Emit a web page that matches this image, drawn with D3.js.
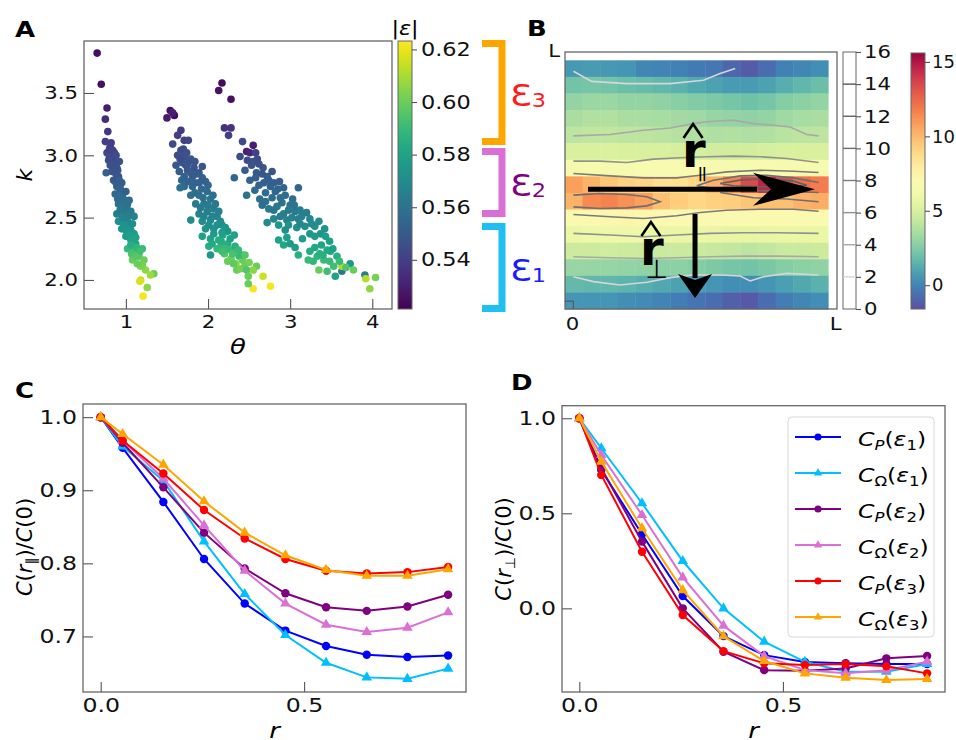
<!DOCTYPE html>
<html>
<head>
<meta charset="utf-8">
<script src="https://cdn.jsdelivr.net/npm/d3@7"></script>
<style>
  body { margin: 0; background: #fff; }
</style>
</head>
<body>
<script>
// glyphs in the reference are a bit wider than DejaVu, stretch horizontal text
var S = 1.18;
var FONT = "DejaVu Sans, sans-serif";

// ---------------- panel A : scatter of k vs theta, coloured by |eps|
// [theta, k, |eps|]
var scatterPoints = [
  [0.65,3.82,0.525],[0.70,3.57,0.526],[0.77,3.38,0.530],[0.75,3.29,0.534],[0.78,3.19,0.538],
  [0.75,3.11,0.540],[0.81,3.07,0.541],[0.77,3.02,0.543],[0.85,3.00,0.542],[0.79,2.96,0.545],
  [0.87,2.94,0.544],[0.89,2.90,0.546],[0.76,2.86,0.552],[0.83,2.87,0.547],[0.80,3.05,0.540],
  [0.83,2.98,0.543],[0.86,3.02,0.541],[0.92,2.95,0.546],[0.81,2.92,0.547],[0.88,2.85,0.548],
  [0.85,2.80,0.549],[0.91,2.83,0.548],[0.89,2.75,0.552],[0.95,2.78,0.550],[0.87,2.69,0.555],
  [0.94,2.67,0.556],[1.00,2.71,0.553],[0.91,2.61,0.560],[0.98,2.60,0.559],[1.04,2.64,0.556],
  [0.93,2.72,0.553],[0.97,2.70,0.551],[0.90,2.65,0.557],[1.01,2.58,0.560],[0.96,2.56,0.562],
  [0.89,2.53,0.565],[0.98,2.53,0.562],[1.06,2.55,0.563],[0.91,2.47,0.572],[1.02,2.47,0.569],
  [1.10,2.51,0.566],[0.95,2.41,0.575],[1.06,2.40,0.576],[1.00,2.35,0.578],[1.10,2.37,0.577],
  [1.06,2.32,0.580],[1.12,2.29,0.582],[1.04,2.44,0.572],[0.97,2.45,0.574],[1.02,2.25,0.590],
  [1.10,2.24,0.592],[1.20,2.25,0.590],[1.16,2.19,0.598],[1.08,2.16,0.600],[1.22,2.16,0.600],
  [1.18,2.11,0.604],[1.24,2.08,0.606],[1.14,2.22,0.594],[1.34,2.05,0.600],[1.18,2.00,0.614],
  [1.26,1.94,0.606],[1.21,1.87,0.622],[1.30,2.04,0.608],[1.17,1.99,0.617],
  [0.82,3.10,0.540],[0.84,3.04,0.542],[0.88,3.00,0.544],[0.80,2.99,0.544],[0.84,2.93,0.546],
  [0.90,2.88,0.548],[0.86,2.89,0.547],[0.92,2.80,0.551],[0.88,2.78,0.551],[0.93,2.74,0.553],
  [0.96,2.66,0.556],[0.92,2.68,0.556],[0.99,2.64,0.558],[0.95,2.60,0.560],[1.02,2.61,0.559],
  [0.93,2.56,0.562],[1.00,2.50,0.566],[1.04,2.52,0.565],[0.96,2.50,0.567],[1.03,2.43,0.572],
  [1.08,2.45,0.571],[1.00,2.40,0.575],[1.04,2.36,0.578],[1.08,2.33,0.580],[1.12,2.34,0.580],
  [1.06,2.28,0.585],[1.13,2.26,0.588],[1.17,2.23,0.592],[1.07,2.21,0.594],[1.12,2.19,0.596],
  [1.20,2.12,0.602],[1.14,2.13,0.600],
  [1.54,3.36,0.525],[1.59,3.32,0.524],[1.50,3.30,0.528],[1.57,3.34,0.530],[1.67,3.20,0.538],
  [1.63,3.16,0.540],[1.71,3.12,0.541],[1.76,3.12,0.542],[1.57,3.09,0.544],[1.67,3.04,0.545],
  [1.63,3.00,0.545],[1.71,2.99,0.546],[1.61,2.92,0.549],[1.69,2.94,0.547],[1.77,2.95,0.546],
  [1.65,2.87,0.551],[1.75,2.88,0.549],[1.83,2.90,0.547],[1.71,2.83,0.552],[1.81,2.83,0.551],
  [1.89,2.86,0.549],[1.93,2.91,0.548],[1.66,2.97,0.544],[1.73,2.92,0.548],[1.79,2.86,0.550],
  [1.68,2.80,0.554],[1.71,2.75,0.556],[1.81,2.75,0.555],[1.89,2.78,0.553],[1.97,2.79,0.552],
  [1.79,2.68,0.560],[1.89,2.68,0.559],[1.99,2.71,0.557],[1.85,2.61,0.563],[1.95,2.61,0.562],
  [2.03,2.65,0.560],[1.66,2.74,0.558],[1.79,2.48,0.570],[1.89,2.53,0.566],[1.99,2.55,0.565],
  [2.07,2.57,0.564],[1.93,2.47,0.570],[2.03,2.48,0.569],[2.11,2.51,0.567],[1.97,2.41,0.574],
  [2.07,2.41,0.574],[2.17,2.44,0.572],[2.24,2.39,0.575],[1.93,2.35,0.580],[2.03,2.33,0.580],
  [2.13,2.32,0.584],[2.01,2.27,0.585],[2.11,2.25,0.590],[2.24,2.29,0.585],[2.32,2.36,0.580],
  [2.28,2.24,0.590],[2.03,2.20,0.575],[2.20,2.21,0.595],[2.28,2.17,0.600],[2.38,2.19,0.590],
  [2.24,2.15,0.600],[2.34,2.13,0.605],[2.42,2.16,0.600],[2.35,2.08,0.600],[2.40,2.09,0.602],
  [2.41,2.20,0.590],[2.45,2.13,0.600],[2.31,2.13,0.598],[2.47,2.08,0.595],[2.49,2.03,0.600],
  [2.59,2.11,0.600],[2.67,2.03,0.615],[2.76,1.95,0.622],[2.55,1.93,0.622],[2.49,1.97,0.600],
  [2.16,2.28,0.588],[2.18,2.36,0.582],
  [1.70,3.05,0.545],[1.74,3.02,0.546],[1.79,2.97,0.548],[1.84,2.95,0.548],[1.75,2.93,0.548],
  [1.86,2.85,0.550],[1.93,2.82,0.551],[1.76,2.79,0.553],[1.84,2.78,0.554],[1.92,2.73,0.556],
  [1.84,2.70,0.558],[2.00,2.76,0.555],[1.94,2.66,0.559],[2.06,2.68,0.559],[1.91,2.58,0.563],
  [2.00,2.60,0.563],[2.09,2.61,0.562],[2.13,2.55,0.566],[1.95,2.51,0.567],[2.05,2.51,0.567],
  [2.15,2.47,0.570],[2.01,2.44,0.571],[2.11,2.44,0.572],[2.21,2.42,0.574],[2.07,2.37,0.577],
  [2.17,2.38,0.578],[2.27,2.33,0.580],[2.05,2.29,0.583],[2.16,2.31,0.584],[2.22,2.25,0.590],
  [2.33,2.27,0.586],[2.17,2.23,0.592],[2.30,2.21,0.594],[2.37,2.24,0.590],[2.45,2.20,0.596],
  [2.50,2.14,0.602],[2.55,2.08,0.605],
  [2.17,3.58,0.524],[2.13,3.52,0.526],[2.28,3.45,0.525],[2.20,3.22,0.535],[2.28,3.22,0.536],
  [2.25,3.16,0.540],[2.42,3.11,0.545],[2.55,3.08,0.530],[2.47,3.03,0.530],[2.51,3.02,0.532],
  [2.39,2.99,0.545],[2.58,3.02,0.540],[2.32,2.82,0.555],[2.45,2.88,0.550],[2.51,2.80,0.553],
  [2.59,2.86,0.549],[2.67,2.90,0.547],[2.72,2.83,0.550],[2.78,2.87,0.548],[2.62,2.93,0.546],
  [2.55,2.95,0.548],[2.47,2.68,0.560],[2.57,2.72,0.556],[2.63,2.65,0.558],[2.70,2.63,0.560],
  [2.76,2.75,0.553],[2.82,2.71,0.555],[2.92,2.74,0.554],[3.10,2.74,0.555],[2.68,2.78,0.552],
  [2.87,2.79,0.551],[2.74,2.57,0.563],[2.84,2.59,0.562],[2.92,2.53,0.565],[3.00,2.60,0.560],
  [3.06,2.55,0.563],[2.80,2.49,0.568],[2.96,2.48,0.567],[3.10,2.49,0.566],[2.72,2.46,0.570],
  [3.03,2.65,0.558],[2.88,2.66,0.558],[2.86,2.44,0.575],[2.98,2.44,0.573],[3.14,2.51,0.566],
  [3.24,2.49,0.568],[3.18,2.43,0.570],[3.30,2.43,0.572],[3.37,2.37,0.575],[3.24,2.37,0.574],
  [3.43,2.35,0.578],[3.08,2.42,0.572],[2.86,2.32,0.580],[2.92,2.28,0.582],[3.00,2.29,0.576],
  [3.06,2.26,0.578],[3.24,2.23,0.584],[3.33,2.19,0.588],[3.41,2.16,0.590],[3.28,2.15,0.588],
  [3.49,2.23,0.582],[3.57,2.19,0.585],[3.22,2.16,0.590],[3.36,2.21,0.586],[3.35,2.08,0.600],
  [3.45,2.07,0.592],[3.55,2.03,0.580],[3.63,2.07,0.562],[3.73,2.13,0.575],[3.77,2.08,0.600],
  [3.63,2.11,0.610],[3.53,2.11,0.592],[3.91,2.04,0.565],[3.92,2.01,0.612],[4.04,2.02,0.602],
  [3.97,1.93,0.606],
  [2.48,2.96,0.545],[2.53,2.92,0.547],[2.60,2.97,0.545],[2.66,2.85,0.549],[2.58,2.82,0.551],
  [2.74,2.80,0.551],[2.80,2.78,0.552],[2.62,2.76,0.553],[2.70,2.70,0.556],[2.85,2.73,0.554],
  [2.94,2.68,0.557],[2.78,2.66,0.557],[2.66,2.60,0.558],[2.90,2.62,0.560],[2.98,2.56,0.563],
  [2.80,2.56,0.561],[3.05,2.60,0.561],[3.12,2.56,0.564],[2.88,2.51,0.564],[3.02,2.50,0.566],
  [3.20,2.54,0.565],[3.26,2.45,0.570],[3.12,2.45,0.569],[2.94,2.40,0.571],[3.35,2.47,0.571],
  [3.42,2.41,0.574],[3.30,2.35,0.576],[3.48,2.31,0.579],[3.15,2.33,0.577],[3.38,2.28,0.581],
  [3.30,2.26,0.582],[3.45,2.24,0.583],[3.52,2.25,0.580],[3.40,2.20,0.586],[3.60,2.15,0.590],
  [3.48,2.15,0.590],[3.68,2.10,0.595],[3.10,2.20,0.585],[2.96,2.34,0.578]
];
var thetaTicks = [1, 2, 3, 4];
var kTicks = [2.0, 2.5, 3.0, 3.5];
var epsTicks = [0.54, 0.56, 0.58, 0.60, 0.62];
// |eps| ranges marked by the brackets, order eps3, eps2, eps1
var bandNames = ["3", "2", "1"];
var bandHi = [0.6236, 0.5825, 0.5540];
var bandLo = [0.5837, 0.5563, 0.5202];

// ---------------- panel B : heat map (rows top to bottom), contour lines
var heatValues = [
  [0.6,0.7,0.6,0.5,0.1,0.0,-0.1,-0.3,-0.4,-0.9,-1.2,-0.7,-0.1,0.1,0.3],
  [2.1,2.2,2.1,1.9,1.8,1.6,1.4,1.1,0.9,0.7,0.7,0.9,1.3,1.6,1.9],
  [3.0,3.2,3.2,3.0,3.0,2.9,2.7,2.5,2.4,2.2,2.0,2.2,2.6,2.8,3.0],
  [3.6,3.8,3.8,3.6,3.6,3.5,3.4,3.3,3.1,3.0,2.9,3.0,3.3,3.5,3.6],
  [4.1,4.2,4.2,4.1,4.1,4.0,3.9,3.8,3.7,3.8,3.7,3.8,4.0,4.1,4.1],
  [5.0,5.0,5.1,5.0,5.0,5.0,4.9,4.9,4.8,4.8,4.8,4.9,5.0,5.0,5.0],
  [6.3,6.5,6.5,6.5,6.6,6.6,6.6,6.6,6.5,6.5,6.6,6.6,6.5,6.4,6.4],
  [10.8,10.2,9.6,9.2,9.0,8.6,8.6,9.0,10.2,11.6,13.4,14.6,13.2,12.2,11.8],
  [10.2,11.4,11.6,11.2,10.8,9.8,9.3,9.0,9.2,9.3,9.6,9.8,9.8,10.2,10.4],
  [6.8,7.0,7.2,7.4,7.2,7.0,7.0,7.0,7.0,6.9,6.9,7.0,7.0,6.9,6.8],
  [5.8,5.9,6.0,6.0,5.9,5.8,5.8,5.8,5.7,5.6,5.6,5.7,5.8,5.8,5.8],
  [4.6,4.6,4.7,4.6,4.5,4.5,4.5,4.5,4.4,4.3,4.1,4.3,4.5,4.5,4.6],
  [3.1,3.1,3.1,3.0,2.9,2.8,2.8,2.6,2.4,2.2,2.1,2.3,2.6,2.8,2.9],
  [1.7,1.6,1.6,1.5,1.3,1.1,0.9,0.7,0.5,0.3,0.3,0.5,0.8,1.1,1.4],
  [0.5,0.5,0.5,0.3,0.2,0.0,-0.2,-0.5,-0.7,-1.1,-1.3,-0.7,-0.2,0.1,0.3]
];
var heatTicks = [0, 5, 10, 15];
var levelTicks = [0, 2, 4, 6, 8, 10, 12, 14, 16];
var levelLines = [2, 4, 6, 8, 10, 12, 14];
// contour lines in cell units (x from left, y from bottom)
var contourLevels = [2, 4, 6, 8, 10, 12, 10, 10, 8, 6, 4, 2];
var contourLines = [
  [[0.48,14.34],[1.52,13.73],[3.52,13.59],[5.99,13.59],[7.89,13.80],[8.84,14.20],[9.70,14.50]],
  [[0.48,10.44],[2.57,10.52],[4.47,10.78],[5.99,10.92],[7.32,11.18],[8.08,11.29],[9.60,11.39],[10.74,11.18],[11.88,11.08],[12.83,10.98],[13.78,10.52],[14.45,10.44]],
  [[0.48,8.92],[2.0,8.92],[3.52,8.84],[5.04,9.04],[6.56,9.12],[8.08,9.18],[9.60,9.22],[11.12,9.18],[12.64,9.08],[14.45,8.84]],
  [[0.48,8.17],[2.57,8.03],[4.47,7.91],[6.37,7.91],[7.70,8.07],[9.22,8.27],[11.12,8.37],[13.02,8.31],[14.45,8.23]],
  [[14.45,7.63],[13.02,7.91],[11.50,8.07],[9.98,8.03],[8.46,7.77],[7.51,7.43],[8.65,7.23],[10.36,7.17],[12.07,7.11],[13.40,7.07],[14.45,7.03]],
  [[8.84,7.57],[9.98,7.77],[11.50,7.87],[13.02,7.71],[13.78,7.47],[12.64,7.37],[11.12,7.37],[9.60,7.43],[8.84,7.57]],
  [[0.48,6.87],[2.0,6.97],[3.52,6.91],[4.66,6.77],[5.42,6.47],[4.66,6.22],[3.52,6.10],[2.0,6.06],[0.48,6.16]],
  [[8.84,7.03],[10.74,6.71],[12.64,6.63],[14.45,6.47]],
  [[0.48,5.70],[2.57,5.56],[4.47,5.46],[6.37,5.62],[7.70,5.82],[9.22,5.96],[11.12,6.02],[13.02,6.02],[14.45,5.90]],
  [[0.48,4.56],[2.57,4.46],[4.47,4.36],[6.37,4.46],[8.27,4.56],[10.17,4.60],[12.07,4.60],[14.45,4.56]],
  [[0.48,3.15],[2.57,3.09],[4.47,3.05],[6.37,3.09],[8.27,3.15],[10.17,3.19],[12.07,3.19],[14.45,3.15]],
  [[0.48,1.95],[1.62,1.65],[3.14,1.45],[4.66,1.61],[5.99,1.89],[7.32,2.05],[8.84,2.05],[9.98,1.99],[10.55,1.69],[11.31,1.95],[12.64,2.15],[14.45,2.05]]
];
// arrows [start, tip] and where their labels sit, cell units
var arrowPar = [[1.31, 7.22], [14.25, 7.22]];
var arrowPerp = [[7.41, 5.73], [7.41, 0.66]];
var labelPar = [6.67, 8.56];
var labelPerp = [4.27, 2.65];

// ---------------- panels C, D : correlation functions
var rValues = [0, 0.054, 0.154, 0.254, 0.354, 0.454, 0.554, 0.654, 0.754, 0.854];
var seriesKind = ["P", "Ω", "P", "Ω", "P", "Ω"];
var seriesEps = ["1", "1", "2", "2", "3", "3"];

var parCPe1 = [1.0, 0.958, 0.884, 0.806, 0.745, 0.708, 0.687, 0.675, 0.672, 0.674];
var parCOe1 = [1.0, 0.960, 0.913, 0.830, 0.758, 0.702, 0.664, 0.644, 0.642, 0.656];
var parCPe2 = [1.0, 0.965, 0.904, 0.842, 0.793, 0.759, 0.740, 0.735, 0.741, 0.757];
var parCOe2 = [1.0, 0.968, 0.916, 0.852, 0.790, 0.745, 0.716, 0.706, 0.712, 0.733];
var parCPe3 = [1.0, 0.968, 0.923, 0.873, 0.834, 0.806, 0.790, 0.786, 0.788, 0.795];
var parCOe3 = [1.0, 0.977, 0.935, 0.885, 0.842, 0.811, 0.791, 0.783, 0.783, 0.792];

var perpCPe1 = [1.0, 0.728, 0.390, 0.065, -0.146, -0.246, -0.282, -0.289, -0.293, -0.293];
var perpCOe1 = [1.0, 0.842, 0.553, 0.249, 0.0, -0.175, -0.281, -0.333, -0.333, -0.293];
var perpCPe2 = [1.0, 0.737, 0.351, 0.0, -0.228, -0.325, -0.328, -0.316, -0.263, -0.251];
var perpCOe2 = [1.0, 0.807, 0.491, 0.163, -0.091, -0.251, -0.325, -0.342, -0.325, -0.281];
var perpCPe3 = [1.0, 0.702, 0.298, -0.035, -0.225, -0.289, -0.298, -0.293, -0.304, -0.342];
var perpCOe3 = [1.0, 0.772, 0.421, 0.096, -0.146, -0.277, -0.342, -0.365, -0.377, -0.372];

var parTicks = [0.7, 0.8, 0.9, 1.0];
var perpTicks = [0.0, 0.5, 1.0];
var rTicks = [0.0, 0.5];

// styles
var seriesColors = ["#0000ff", "#00bfff", "#800080", "#da70d6", "#ff0000", "#ffa500"];
var bandColors = ["#ffa500", "#da70d6", "#1fbff2"];
var bandTextColors = ["#ff1a1a", "#800080", "#1a1aff"];

var svg = d3.select("body").append("svg")
  .attr("width", 956).attr("height", 740)
  .attr("font-family", FONT);
var defs = svg.append("defs");

function styleAxis(g, size, noStretch) {
  g.attr("font-family", FONT).attr("font-size", size);
  g.select(".domain").remove();
  g.selectAll(".tick line").attr("stroke", "#555").attr("stroke-width", 1.1);
  g.selectAll(".tick text").attr("fill", "#111").classed("s", !noStretch);
}

function frame(x0, y0, x1, y1) {
  svg.append("rect")
    .attr("x", x0).attr("y", y0).attr("width", x1 - x0).attr("height", y1 - y0)
    .attr("fill", "none").attr("stroke", "#666").attr("stroke-width", 1.3);
}

function gradient(id, interp) {
  var lg = defs.append("linearGradient").attr("id", id)
    .attr("x1", 0).attr("y1", 1).attr("x2", 0).attr("y2", 0);
  d3.range(0, 1.0001, 0.05).forEach(function(t) {
    lg.append("stop").attr("offset", t).attr("stop-color", interp(t));
  });
}

function panelLetter(x, y, s) {
  svg.append("text").attr("class", "s").attr("x", x).attr("y", y)
    .attr("font-size", 22).attr("font-weight", "bold").text(s);
}

// ================= A
var xA = d3.scaleLinear().domain([0.49, 4.24]).range([84, 392]);
var yA = d3.scaleLinear().domain([1.767, 3.917]).range([309, 41]);
var epsDomain = [0.5213, 0.6232];
var colA = d3.scaleSequential(d3.interpolateViridis).domain(epsDomain);
var yCb = d3.scaleLinear().domain(epsDomain).range([309, 41]);

svg.append("g").selectAll("circle")
  .data(scatterPoints)
  .enter().append("circle")
  .attr("cx", function(d) { return xA(d[0]); })
  .attr("cy", function(d) { return yA(d[1]); })
  .attr("r", 3.8)
  .attr("fill", function(d) { return colA(d[2]); });

svg.append("g").attr("transform", "translate(0,309)")
  .call(d3.axisBottom(xA).tickValues(thetaTicks).tickFormat(d3.format("d"))
    .tickSizeInner(-10).tickSizeOuter(0).tickPadding(6))
  .call(styleAxis, 18);
svg.append("g").attr("transform", "translate(84,0)")
  .call(d3.axisLeft(yA).tickValues(kTicks).tickFormat(d3.format(".1f"))
    .tickSizeInner(-10).tickSizeOuter(0).tickPadding(6))
  .call(styleAxis, 18);
frame(84, 41, 392, 309);

svg.append("text").attr("class", "s").attr("x", 238).attr("y", 354)
  .attr("text-anchor", "middle").attr("font-size", 22).attr("font-style", "italic").text("θ");
svg.append("text").attr("transform", "translate(32,175) rotate(-90)")
  .attr("text-anchor", "middle").attr("font-size", 22).attr("font-style", "italic").text("k");

// colour bar
gradient("viridisGrad", d3.interpolateViridis);
svg.append("rect").attr("x", 398).attr("y", yCb.range()[1])
  .attr("width", 14).attr("height", yCb.range()[0] - yCb.range()[1])
  .attr("fill", "url(#viridisGrad)").attr("stroke", "#666").attr("stroke-width", 1);
svg.append("g").attr("transform", "translate(412,0)")
  .call(d3.axisRight(yCb).tickValues(epsTicks).tickFormat(d3.format(".2f"))
    .tickSizeInner(5).tickSizeOuter(0).tickPadding(4))
  .call(styleAxis, 19);
var epsLab = svg.append("text").attr("class", "s").attr("x", 405).attr("y", 35)
  .attr("text-anchor", "middle").attr("font-size", 19);
epsLab.append("tspan").text("|");
epsLab.append("tspan").attr("font-style", "italic").text("ε");
epsLab.append("tspan").text("|");

// brackets for eps1..eps3
bandNames.forEach(function(name, i) {
  var yt = yCb(bandHi[i]), yb = yCb(bandLo[i]);
  svg.append("path")
    .attr("d", "M482," + (yt + 3.5) + "H502V" + (yb - 3.5) + "H482")
    .attr("fill", "none").attr("stroke", bandColors[i]).attr("stroke-width", 7)
    .attr("stroke-linejoin", "miter");
  var t = svg.append("text").attr("class", "s").attr("x", 510).attr("y", (yt + yb) / 2 + 14)
    .attr("fill", bandTextColors[i]).attr("font-size", 30);
  t.append("tspan").text("Ɛ");
  t.append("tspan").attr("font-size", 19).attr("dy", 1).text(name);
});

panelLetter(15, 37, "A");

// ================= B
var xB = d3.scaleLinear().domain([0, 15.5]).range([565, 837]);
var yB = d3.scaleLinear().domain([0, 15.5]).range([309, 52]);
var heatDomain = [-1.6, 15.6];
var spectralR = function(t) { return d3.interpolateSpectral(1 - t); };
var colB = d3.scaleSequential(spectralR).domain(heatDomain);
var grayLevel = d3.scaleLinear().domain([2, 4, 8, 14]).range(["#d6d6d6", "#a8a8a8", "#7a7a7a", "#555"]);
var nRows = heatValues.length;

var cells = [];
heatValues.forEach(function(row, i) {
  row.forEach(function(v, j) { cells.push({ row: i, col: j, v: v }); });
});
svg.append("g").selectAll("rect")
  .data(cells)
  .enter().append("rect")
  .attr("x", function(d) { return xB(d.col); })
  .attr("y", function(d) { return yB(nRows - d.row); })
  .attr("width", xB(1) - xB(0) + 0.4)
  .attr("height", yB(0) - yB(1) + 0.4)
  .attr("fill", function(d) { return colB(d.v); });

var cLine = d3.line()
  .x(function(d) { return xB(d[0]); })
  .y(function(d) { return yB(d[1]); });
svg.append("g").selectAll("path")
  .data(contourLines)
  .enter().append("path")
  .attr("d", cLine)
  .attr("fill", "none")
  .attr("stroke", function(d, i) { return grayLevel(contourLevels[i]); })
  .attr("stroke-width", 1.6);

frame(565, 52, 837, 309);

// tick labels of panel B
svg.append("g").attr("transform", "translate(0,309)")
  .call(d3.axisBottom(xB).tickValues([0.4, 15.4]).tickFormat(function(d, i) { return ["0", "L"][i]; })
    .tickSize(0).tickPadding(8))
  .call(styleAxis, 18);
svg.append("g").attr("transform", "translate(565,0)")
  .call(d3.axisLeft(yB).tickValues([15.6]).tickFormat(function() { return "L"; })
    .tickSize(0).tickPadding(5))
  .call(styleAxis, 18);
// small corner ticks
svg.append("g").attr("transform", "translate(0,309)")
  .call(d3.axisBottom(xB).tickValues([0.45]).tickFormat("").tickSizeInner(-8).tickSizeOuter(0))
  .call(styleAxis, 18);
svg.append("g").attr("transform", "translate(565,0)")
  .call(d3.axisLeft(yB).tickValues([0.5]).tickFormat("").tickSizeInner(-8).tickSizeOuter(0))
  .call(styleAxis, 18);

// arrows
function arrow(a, headLen, headHalf, notch) {
  var x0 = xB(a[0][0]), y0 = yB(a[0][1]), x1 = xB(a[1][0]), y1 = yB(a[1][1]);
  var len = Math.hypot(x1 - x0, y1 - y0), ux = (x1 - x0) / len, uy = (y1 - y0) / len;
  var px = -uy, py = ux;
  svg.append("line")
    .attr("x1", x0).attr("y1", y0)
    .attr("x2", x1 - ux * (headLen - 4)).attr("y2", y1 - uy * (headLen - 4))
    .attr("stroke", "#000").attr("stroke-width", 5);
  var bx = x1 - ux * headLen, by = y1 - uy * headLen;
  var pts = [
    [x1, y1],
    [bx + px * headHalf, by + py * headHalf],
    [x1 - ux * notch, y1 - uy * notch],
    [bx - px * headHalf, by - py * headHalf]
  ];
  svg.append("path").attr("d", "M" + pts.join("L") + "Z").attr("fill", "#000");
}
arrow(arrowPar, 62, 16.5, 44);
arrow(arrowPerp, 24, 17, 18);

// bold r with a hat and a small subscript, all one text element
function hatLabel(at, sub, subSize, subDx, subDy, subWeight) {
  var x = xB(at[0]), y = yB(at[1]);
  var t = svg.append("text").attr("x", x).attr("y", y).attr("font-weight", "bold");
  t.append("tspan").attr("font-size", 48).text("r");
  t.append("tspan").attr("font-size", subSize).attr("font-weight", subWeight)
    .attr("letter-spacing", -1).attr("dx", subDx).attr("dy", subDy).text(sub);
  svg.append("path")
    .attr("d", "M" + (x + 1.5) + "," + (y - 29) + "L" + (x + 11) + "," + (y - 43) + "L" + (x + 20.5) + "," + (y - 29))
    .attr("fill", "none").attr("stroke", "#000").attr("stroke-width", 2.6);
}
hatLabel(labelPar, "||", 14, -8, 11, "bold");
hatLabel(labelPerp, "⊥", 26, -18, 13, "normal");

// contour level bar
var yLv = d3.scaleLinear().domain([0, 16]).range([309, 52]);
svg.append("rect").attr("x", 843).attr("y", 52).attr("width", 13).attr("height", 257)
  .attr("fill", "#fff").attr("stroke", "#666").attr("stroke-width", 1);
svg.append("g").selectAll("line")
  .data(levelLines)
  .enter().append("line")
  .attr("x1", 843).attr("x2", 856)
  .attr("y1", function(d) { return yLv(d); }).attr("y2", function(d) { return yLv(d); })
  .attr("stroke", function(d) { return grayLevel(d); }).attr("stroke-width", 1.4);
svg.append("g").attr("transform", "translate(856,0)")
  .call(d3.axisRight(yLv).tickValues(levelTicks).tickFormat(d3.format("d"))
    .tickSizeInner(5).tickSizeOuter(0).tickPadding(3))
  .call(styleAxis, 18);

// value colour bar
var yHb = d3.scaleLinear().domain(heatDomain).range([309, 53]);
gradient("spectralGrad", spectralR);
svg.append("rect").attr("x", 911).attr("y", 53).attr("width", 14).attr("height", 256)
  .attr("fill", "url(#spectralGrad)").attr("stroke", "#666").attr("stroke-width", 1);
svg.append("g").attr("transform", "translate(925,0)")
  .call(d3.axisRight(yHb).tickValues(heatTicks).tickFormat(d3.format("d"))
    .tickSizeInner(5).tickSizeOuter(0).tickPadding(2))
  .call(styleAxis, 18, true);

panelLetter(527, 36, "B");

// ================= C and D
function corrText(t, kind, idx, size) {
  t.append("tspan").attr("font-style", "italic").text("C");
  t.append("tspan").attr("font-size", size * 0.7).attr("dy", size * 0.2)
    .attr("font-style", kind === "P" ? "italic" : "normal").text(kind);
  t.append("tspan").attr("dy", -size * 0.2).text("(");
  t.append("tspan").attr("font-style", "italic").text("ε");
  t.append("tspan").attr("font-size", size * 0.7).attr("dy", size * 0.2).text(idx);
  t.append("tspan").attr("dy", -size * 0.2).text(")");
}

function yLabel(x, y, sub) {
  var t = svg.append("text").attr("transform", "translate(" + x + "," + y + ") rotate(-90)")
    .attr("text-anchor", "middle").attr("font-size", 21);
  t.append("tspan").attr("font-style", "italic").text("C");
  t.append("tspan").text("(");
  t.append("tspan").attr("font-style", "italic").text("r");
  t.append("tspan").attr("font-size", 14).attr("dy", 4).text(sub);
  t.append("tspan").attr("dy", -4).text(")/");
  t.append("tspan").attr("font-style", "italic").text("C");
  t.append("tspan").text("(0)");
}

function corrPanel(series, x, y, yTicks) {
  var line = d3.line()
    .x(function(d, i) { return x(rValues[i]); })
    .y(function(d) { return y(d); });
  var x0 = x.range()[0], x1 = x.range()[1], y0 = y.range()[1], y1 = y.range()[0];
  svg.append("g").attr("transform", "translate(0," + y1 + ")")
    .call(d3.axisBottom(x).tickValues(rTicks).tickFormat(d3.format(".1f"))
      .tickSizeInner(-10).tickSizeOuter(0).tickPadding(6))
    .call(styleAxis, 20);
  svg.append("g").attr("transform", "translate(" + x0 + ",0)")
    .call(d3.axisLeft(y).tickValues(yTicks).tickFormat(d3.format(".1f"))
      .tickSizeInner(-10).tickSizeOuter(0).tickPadding(6))
    .call(styleAxis, 20);
  series.forEach(function(vals, s) {
    var g = svg.append("g");
    g.append("path").attr("d", line(vals))
      .attr("fill", "none").attr("stroke", seriesColors[s]).attr("stroke-width", 2);
    var sym = d3.symbol()
      .type(seriesKind[s] === "P" ? d3.symbolCircle : d3.symbolTriangle)
      .size(seriesKind[s] === "P" ? 56 : 48);
    g.selectAll("path.m").data(vals).enter().append("path").attr("class", "m")
      .attr("transform", function(d, i) { return "translate(" + x(rValues[i]) + "," + y(d) + ")"; })
      .attr("d", sym).attr("fill", seriesColors[s]);
  });
  frame(x0, y0, x1, y1);
  svg.append("text").attr("class", "s").attr("x", (x0 + x1) / 2).attr("y", 738)
    .attr("text-anchor", "middle").attr("font-size", 22).attr("font-style", "italic").text("r");
}

var xC = d3.scaleLinear().domain([-0.0435, 0.898]).range([83, 466]);
var yC = d3.scaleLinear().domain([0.624, 1.018]).range([692, 404]);
corrPanel([parCPe1, parCOe1, parCPe2, parCOe2, parCPe3, parCOe3], xC, yC, parTicks);
yLabel(32, 547, "∥");
panelLetter(15, 398, "C");

var xD = d3.scaleLinear().domain([-0.0425, 0.898]).range([562, 945]);
var yD = d3.scaleLinear().domain([-0.44, 1.066]).range([692, 405.7]);
corrPanel([perpCPe1, perpCOe1, perpCPe2, perpCOe2, perpCPe3, perpCOe3], xD, yD, perpTicks);
yLabel(511, 549, "⊥");
panelLetter(511, 390, "D");

// legend
var leg = svg.append("g");
leg.append("rect").attr("x", 788).attr("y", 417).attr("width", 146).attr("height", 220)
  .attr("rx", 4).attr("fill", "#fff").attr("fill-opacity", 0.85)
  .attr("stroke", "#d8d8d8").attr("stroke-width", 1);
seriesKind.forEach(function(kind, s) {
  var ly = 437 + s * 36;
  leg.append("line").attr("x1", 795).attr("x2", 841).attr("y1", ly).attr("y2", ly)
    .attr("stroke", seriesColors[s]).attr("stroke-width", 2.2);
  leg.append("path").attr("transform", "translate(818," + ly + ")")
    .attr("d", d3.symbol().type(kind === "P" ? d3.symbolCircle : d3.symbolTriangle).size(kind === "P" ? 40 : 30))
    .attr("fill", seriesColors[s]);
  var t = leg.append("text").attr("class", "s").attr("x", 858).attr("y", ly + 9).attr("font-size", 20);
  corrText(t, kind, seriesEps[s], 20);
});

// widen horizontal glyphs like in the reference
svg.selectAll("text.s").each(function() {
  var t = d3.select(this);
  var x = +t.attr("x") || 0;
  t.attr("transform", "translate(" + x + ",0) scale(" + S + ",1) translate(" + (-x) + ",0)");
});
</script>
</body>
</html>
